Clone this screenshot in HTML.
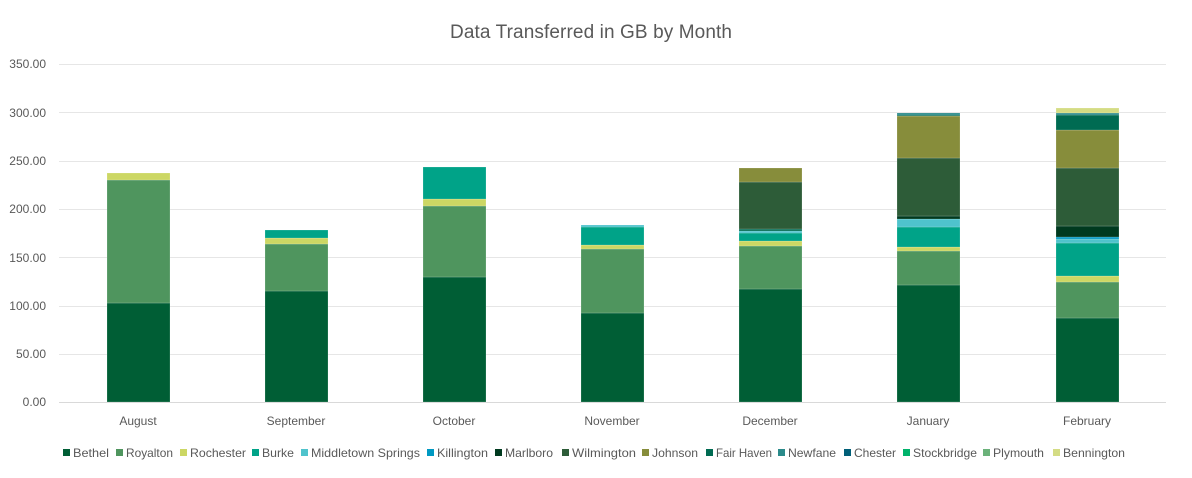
<!DOCTYPE html><html><head><style>body{margin:0;background:#fff}svg{display:block;font-family:"Liberation Sans",sans-serif}</style></head><body>
<svg width="1192" height="478" xmlns="http://www.w3.org/2000/svg">
<text x="591" y="38" text-anchor="middle" font-size="19" fill="#595959" textLength="282">Data Transferred in GB by Month</text>
<g stroke="#e6e6e6" stroke-width="1">
<line x1="59" x2="1166" y1="64.5" y2="64.5"/><line x1="59" x2="1166" y1="112.5" y2="112.5"/><line x1="59" x2="1166" y1="161.5" y2="161.5"/><line x1="59" x2="1166" y1="209.5" y2="209.5"/><line x1="59" x2="1166" y1="257.5" y2="257.5"/><line x1="59" x2="1166" y1="306.5" y2="306.5"/><line x1="59" x2="1166" y1="354.5" y2="354.5"/></g>
<line x1="59" x2="1166" y1="402.5" y2="402.5" stroke="#d9d9d9"/>
<g font-size="12" fill="#595959" text-anchor="end">
<text x="46" y="68">350.00</text><text x="46" y="117">300.00</text><text x="46" y="165">250.00</text><text x="46" y="213">200.00</text><text x="46" y="262">150.00</text><text x="46" y="310">100.00</text><text x="46" y="358">50.00</text><text x="46" y="406">0.00</text></g>
<g font-size="12" fill="#595959" text-anchor="middle">
<text x="138" y="425">August</text><text x="296" y="425">September</text><text x="454" y="425">October</text><text x="612" y="425">November</text><text x="770" y="425">December</text><text x="928" y="425">January</text><text x="1087" y="425">February</text></g>
<g stroke="#ffffff" stroke-opacity="0.35" stroke-width="0.5">
<rect x="107" y="303" width="63" height="99" fill="#005e35"/><rect x="107" y="180" width="63" height="123" fill="#4f955e"/><rect x="107" y="173" width="63" height="7" fill="#ccd764"/>
<rect x="265" y="291" width="63" height="111" fill="#005e35"/><rect x="265" y="244" width="63" height="47" fill="#4f955e"/><rect x="265" y="238" width="63" height="6" fill="#ccd764"/><rect x="265" y="230" width="63" height="8" fill="#00a388"/>
<rect x="423" y="277" width="63" height="125" fill="#005e35"/><rect x="423" y="206" width="63" height="71" fill="#4f955e"/><rect x="423" y="199" width="63" height="7" fill="#ccd764"/><rect x="423" y="167" width="63" height="32" fill="#00a388"/>
<rect x="581" y="313" width="63" height="89" fill="#005e35"/><rect x="581" y="249" width="63" height="64" fill="#4f955e"/><rect x="581" y="245" width="63" height="4" fill="#ccd764"/><rect x="581" y="227" width="63" height="18" fill="#00a388"/><rect x="581" y="225" width="63" height="2" fill="#4fc3cc"/>
<rect x="739" y="289" width="63" height="113" fill="#005e35"/><rect x="739" y="246" width="63" height="43" fill="#4f955e"/><rect x="739" y="241" width="63" height="5" fill="#ccd764"/><rect x="739" y="233" width="63" height="8" fill="#00a388"/><rect x="739" y="231" width="63" height="2" fill="#4fc3cc"/><rect x="739" y="229" width="63" height="2" fill="#006b52"/><rect x="739" y="182" width="63" height="47" fill="#2d5c38"/><rect x="739" y="168" width="63" height="14" fill="#878d3b"/>
<rect x="897" y="285" width="63" height="117" fill="#005e35"/><rect x="897" y="251" width="63" height="34" fill="#4f955e"/><rect x="897" y="247" width="63" height="4" fill="#ccd764"/><rect x="897" y="227" width="63" height="20" fill="#00a388"/><rect x="897" y="219" width="63" height="8" fill="#4fc3cc"/><rect x="897" y="216" width="63" height="3" fill="#003a1f"/><rect x="897" y="158" width="63" height="58" fill="#2d5c38"/><rect x="897" y="116" width="63" height="42" fill="#878d3b"/><rect x="897" y="115" width="63" height="1" fill="#006b52"/><rect x="897" y="113" width="63" height="2" fill="#2a8a8a"/>
<rect x="1056" y="318" width="63" height="84" fill="#005e35"/><rect x="1056" y="282" width="63" height="36" fill="#4f955e"/><rect x="1056" y="276" width="63" height="6" fill="#ccd764"/><rect x="1056" y="243" width="63" height="33" fill="#00a388"/><rect x="1056" y="239" width="63" height="4" fill="#4fc3cc"/><rect x="1056" y="237" width="63" height="2" fill="#0099c2"/><rect x="1056" y="226" width="63" height="11" fill="#003a1f"/><rect x="1056" y="168" width="63" height="58" fill="#2d5c38"/><rect x="1056" y="130" width="63" height="38" fill="#878d3b"/><rect x="1056" y="115" width="63" height="15" fill="#006b52"/><rect x="1056" y="113" width="63" height="2" fill="#2a8a8a"/><rect x="1056" y="108" width="63" height="5" fill="#d4dc84"/>
</g>
<g font-size="12" fill="#595959" lengthAdjust="spacingAndGlyphs">
<rect x="63" y="449" width="7" height="7" fill="#005e35"/><text x="73" y="457" textLength="36" lengthAdjust="spacingAndGlyphs">Bethel</text>
<rect x="116" y="449" width="7" height="7" fill="#4f955e"/><text x="126" y="457" textLength="47" lengthAdjust="spacingAndGlyphs">Royalton</text>
<rect x="180" y="449" width="7" height="7" fill="#ccd764"/><text x="190" y="457" textLength="56" lengthAdjust="spacingAndGlyphs">Rochester</text>
<rect x="252" y="449" width="7" height="7" fill="#00a388"/><text x="262" y="457" textLength="32" lengthAdjust="spacingAndGlyphs">Burke</text>
<rect x="301" y="449" width="7" height="7" fill="#4fc3cc"/><text x="311" y="457" textLength="109" lengthAdjust="spacingAndGlyphs">Middletown Springs</text>
<rect x="427" y="449" width="7" height="7" fill="#0099c2"/><text x="437" y="457" textLength="51" lengthAdjust="spacingAndGlyphs">Killington</text>
<rect x="495" y="449" width="7" height="7" fill="#003a1f"/><text x="505" y="457" textLength="48" lengthAdjust="spacingAndGlyphs">Marlboro</text>
<rect x="562" y="449" width="7" height="7" fill="#2d5c38"/><text x="572" y="457" textLength="64" lengthAdjust="spacingAndGlyphs">Wilmington</text>
<rect x="642" y="449" width="7" height="7" fill="#878d3b"/><text x="652" y="457" textLength="46" lengthAdjust="spacingAndGlyphs">Johnson</text>
<rect x="706" y="449" width="7" height="7" fill="#006b52"/><text x="716" y="457" textLength="56" lengthAdjust="spacingAndGlyphs">Fair Haven</text>
<rect x="778" y="449" width="7" height="7" fill="#2a8a8a"/><text x="788" y="457" textLength="48" lengthAdjust="spacingAndGlyphs">Newfane</text>
<rect x="844" y="449" width="7" height="7" fill="#005f78"/><text x="854" y="457" textLength="42" lengthAdjust="spacingAndGlyphs">Chester</text>
<rect x="903" y="449" width="7" height="7" fill="#00b36b"/><text x="913" y="457" textLength="64" lengthAdjust="spacingAndGlyphs">Stockbridge</text>
<rect x="983" y="449" width="7" height="7" fill="#6bb27a"/><text x="993" y="457" textLength="51" lengthAdjust="spacingAndGlyphs">Plymouth</text>
<rect x="1053" y="449" width="7" height="7" fill="#d4dc84"/><text x="1063" y="457" textLength="62" lengthAdjust="spacingAndGlyphs">Bennington</text>
</g>
</svg></body></html>
